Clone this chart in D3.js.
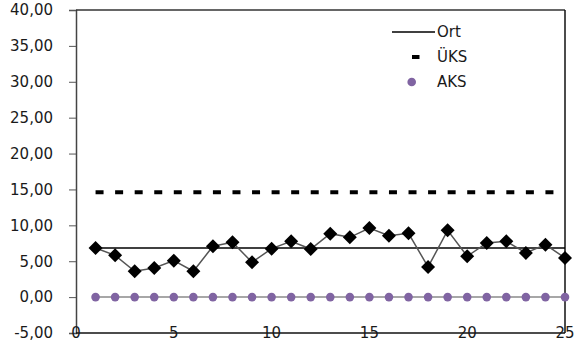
<!DOCTYPE html>
<html>
<head>
<meta charset="utf-8">
<script src="https://cdn.jsdelivr.net/npm/d3@7"></script>
<style>
  html, body { margin: 0; padding: 0; background: #fff; }
  svg { display: block; }
  text { font-family: "DejaVu Sans", sans-serif; fill: #1a1a1a; }
</style>
</head>
<body>
<svg id="chart" width="576" height="349"></svg>
<script>
// ---- data ----
const samples = [1,2,3,4,5,6,7,8,9,10,11,12,13,14,15,16,17,18,19,20,21,22,23,24,25];
const values  = [6.85,5.82,3.6,4.07,5.08,3.6,7.08,7.64,4.85,6.75,7.78,6.7,8.84,8.33,9.63,8.56,8.89,4.2,9.3,5.69,7.55,7.78,6.16,7.31,5.46];
const ortLevel = 6.85;   // Ort (mean)
const uksLevel = 14.6;   // ÜKS (upper control limit)
const aksValues = [0,0,0,0,0,0,0,0,0,0,0,0,0,0,0,0,0,0,0,0,0,0,0,0,0]; // AKS
const yTicks = [-5,0,5,10,15,20,25,30,35,40];
const xTicks = [0,5,10,15,20,25];
const legendItems = ["Ort","ÜKS","AKS"];

// ---- layout ----
const svg = d3.select("#chart");
const x = d3.scaleLinear().domain([0,25]).range([76,565]);
const y = d3.scaleLinear().domain([-5,40]).range([333,10]);
const fmt = d => d3.format(".2f")(d).replace("\u2212", "-").replace(".", ",");

// y axis
const yAxis = svg.append("g")
  .attr("transform", `translate(${x(0)},0)`)
  .call(d3.axisLeft(y).tickValues(yTicks).tickFormat(fmt).tickSize(7).tickPadding(16));
yAxis.select(".domain").attr("stroke", "#444").attr("stroke-width", 1.5);
yAxis.selectAll(".tick line").attr("stroke", "#555").attr("stroke-width", 1);
yAxis.selectAll(".tick text")
  .style("font-family", "DejaVu Sans").style("font-size", "15px").attr("fill", "#1a1a1a");

// plot frame: top and right
svg.append("line").attr("x1", x(0)).attr("x2", x(25)).attr("y1", y(40)).attr("y2", y(40))
  .attr("stroke", "#333").attr("stroke-width", 1.5);
svg.append("line").attr("x1", x(25)).attr("x2", x(25)).attr("y1", y(40)).attr("y2", y(-5))
  .attr("stroke", "#111").attr("stroke-width", 1.5);
// bottom axis line
svg.append("line").attr("x1", x(0)).attr("x2", x(25)).attr("y1", y(-5)).attr("y2", y(-5))
  .attr("stroke", "#111").attr("stroke-width", 1.5);
// x labels sitting on the bottom axis
svg.append("g").selectAll("text").data(xTicks).join("text")
  .attr("x", d => x(d)).attr("y", y(-5)).attr("dy", "0.3em")
  .attr("text-anchor", "middle").style("font-size", "15px").text(d => d);

// ÜKS dashed line
const step = x(2) - x(1);
svg.append("line")
  .attr("x1", x(samples[0])).attr("x2", x(samples[samples.length-1]))
  .attr("y1", y(uksLevel)).attr("y2", y(uksLevel))
  .attr("stroke", "#000").attr("stroke-width", 4)
  .attr("stroke-dasharray", `8 ${step - 8}`);

// Ort line
svg.append("line")
  .attr("x1", x(samples[0])).attr("x2", x(samples[samples.length-1]))
  .attr("y1", y(ortLevel)).attr("y2", y(ortLevel))
  .attr("stroke", "#000").attr("stroke-width", 1.5);

// AKS line + dots
svg.append("path")
  .attr("d", d3.line().x((d,i) => x(samples[i])).y(d => y(d))(aksValues))
  .attr("fill", "none").attr("stroke", "#8a8a8a").attr("stroke-width", 1.5);
svg.append("g").selectAll("circle").data(aksValues).join("circle")
  .attr("cx", (d,i) => x(samples[i])).attr("cy", d => y(d)).attr("r", 4.3)
  .attr("fill", "#8064A2");

// measurements
svg.append("path")
  .attr("d", d3.line().x((d,i) => x(samples[i])).y(d => y(d))(values))
  .attr("fill", "none").attr("stroke", "#555").attr("stroke-width", 1.5);
const sq = d3.symbol(d3.symbolSquare, 98);
svg.append("g").selectAll("path").data(values).join("path")
  .attr("d", sq)
  .attr("transform", (d,i) => `translate(${x(samples[i])},${y(d)}) rotate(45)`)
  .attr("fill", "#000");

// legend
const lg = svg.append("g");
const ly = [32, 57, 82];
lg.append("line").attr("x1", 392).attr("x2", 435).attr("y1", ly[0]).attr("y2", ly[0])
  .attr("stroke", "#000").attr("stroke-width", 1.5);
lg.append("line").attr("x1", 412).attr("x2", 419.5).attr("y1", ly[1]).attr("y2", ly[1])
  .attr("stroke", "#000").attr("stroke-width", 4);
lg.append("circle").attr("cx", 411.7).attr("cy", ly[2]).attr("r", 4.3).attr("fill", "#8064A2");
lg.selectAll("text").data(legendItems).join("text")
  .attr("x", 437).attr("y", (d,i) => ly[i]).attr("dy", "0.35em")
  .style("font-size", "15px").text(d => d);
</script>
</body>
</html>
